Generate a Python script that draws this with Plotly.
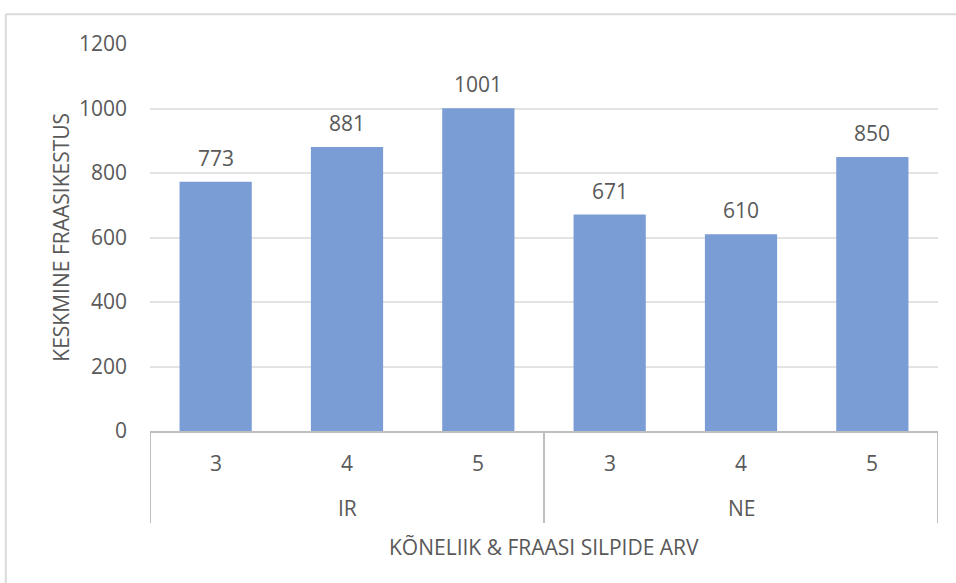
import plotly.graph_objects as go

# Mean phrase duration by speech condition and syllable count
groups = ["IR", "NE"]
syllables = ["3", "4", "5"]
values = [773, 881, 1001, 671, 610, 850]
y_ticks = [0, 200, 400, 600, 800, 1000, 1200]

y_title = "KESKMINE FRAASIKESTUS"
x_title = "KÕNELIIK & FRAASI SILPIDE ARV"

BAR = "#7b9dd6"
TEXT = "#595959"
AXIS = "#bfbfbf"
GRID = "#e3e3e3"
FONT = "Open Sans"
FS = 21

labels = [s for g in groups for s in syllables]
xpos = list(range(len(values)))

fig = go.Figure()
fig.add_trace(go.Bar(
    x=xpos, y=values, marker=dict(color=BAR, line=dict(width=0)),
    width=0.55, hoverinfo="skip",
))

annotations = []
# value labels above bars
for x, v in zip(xpos, values):
    annotations.append(dict(x=x, y=v, xref="x", yref="y", text=str(v),
                            showarrow=False, yanchor="bottom", yshift=8,
                            font=dict(size=FS, color=TEXT, family=FONT)))
# first level: syllable counts
for x, lab in zip(xpos, labels):
    annotations.append(dict(x=x, y=-0.083, xref="x", yref="paper", text=lab,
                            showarrow=False, yanchor="middle",
                            font=dict(size=FS, color=TEXT, family=FONT)))
# second level: groups
n = len(syllables)
for i, g in enumerate(groups):
    annotations.append(dict(x=i * n + (n - 1) / 2, y=-0.199, xref="x", yref="paper",
                            text=g, showarrow=False, yanchor="middle",
                            font=dict(size=FS, color=TEXT, family=FONT)))
# axis titles
annotations.append(dict(x=0.5, y=-0.30, xref="paper", yref="paper", text=x_title,
                        showarrow=False, yanchor="middle",
                        font=dict(size=FS, color=TEXT, family=FONT)))
annotations.append(dict(x=-0.114, y=0.5, xref="paper", yref="paper", text=y_title,
                        showarrow=False, textangle=-90, xanchor="center",
                        font=dict(size=FS, color=TEXT, family=FONT)))

shapes = []
# group dividers
for i in range(len(groups) + 1):
    xd = i * n - 0.5
    shapes.append(dict(type="line", xref="x", yref="paper", x0=xd, x1=xd,
                       y0=0, y1=-0.238, line=dict(color=AXIS, width=2)))
# outer chart border (top and left)
shapes.append(dict(type="line", xref="paper", yref="paper",
                   x0=-0.183, x1=1.03, y0=1.077, y1=1.077,
                   line=dict(color="#d9d9d9", width=2)))
shapes.append(dict(type="line", xref="paper", yref="paper",
                   x0=-0.183, x1=-0.183, y0=1.077, y1=-0.4,
                   line=dict(color="#d9d9d9", width=2)))

fig.update_layout(
    width=956, height=583,
    margin=dict(l=150, r=18, t=44, b=152),
    paper_bgcolor="white", plot_bgcolor="white",
    showlegend=False,
    bargap=0.45,
    xaxis=dict(range=[-0.5, len(values) - 0.5], showticklabels=False,
               showgrid=False, zeroline=False, showline=True,
               linecolor=AXIS, linewidth=2, ticks="", fixedrange=True),
    yaxis=dict(range=[0, 1200], tickvals=y_ticks, showgrid=True,
               gridcolor=GRID, gridwidth=1.5, zeroline=False, showline=False,
               ticks="", ticklabelstandoff=22,
               tickfont=dict(size=FS, color=TEXT, family=FONT)),
    annotations=annotations,
    shapes=shapes,
)

fig.write_html("out.html")
